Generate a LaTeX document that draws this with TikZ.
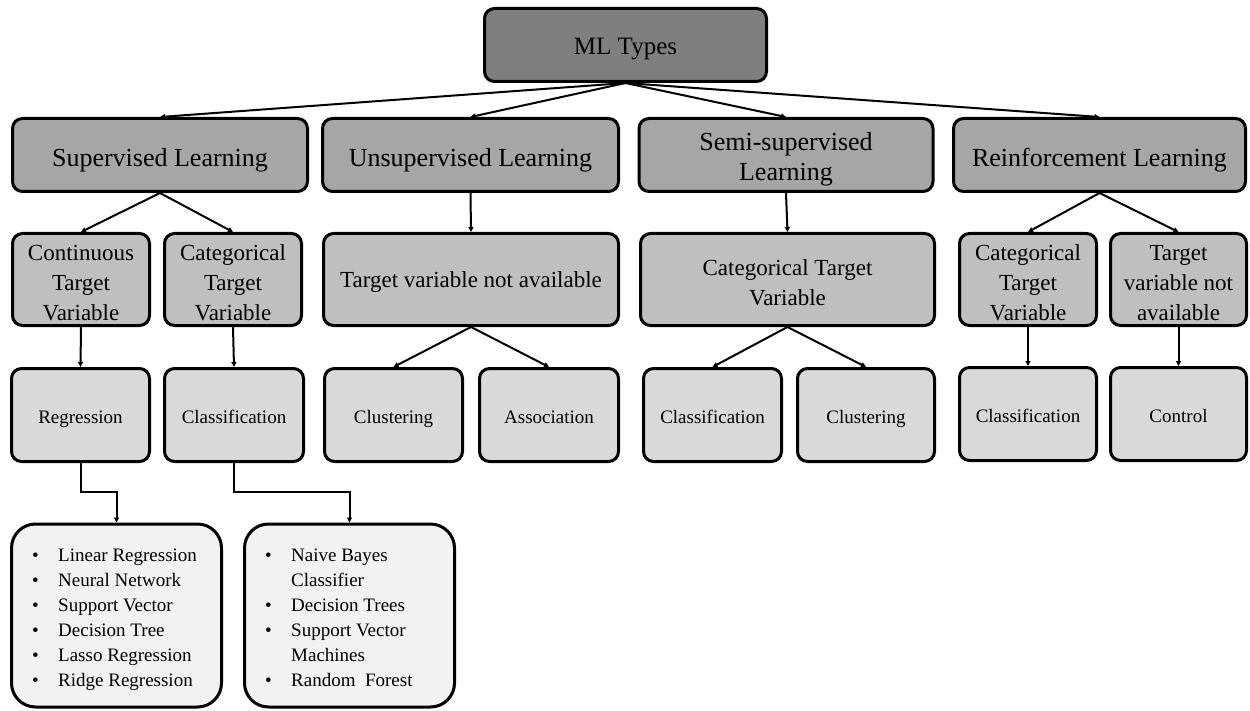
\documentclass[tikz,border=0pt]{standalone}
\usepackage{fontspec}
\setmainfont{Liberation Serif}
\usetikzlibrary{arrows.meta}
\definecolor{fillroot}{HTML}{7F7F7F}
\definecolor{fillone}{HTML}{A6A6A6}
\definecolor{filltwo}{HTML}{BFBFBF}
\definecolor{fillthree}{HTML}{D9D9D9}
\definecolor{filllist}{HTML}{F2F2F2}
\begin{document}
\begin{tikzpicture}[x=1pt,y=-1pt,
  box/.style={draw=black, line width=3pt, rounded corners=10pt, align=center, inner sep=2pt},
  oneline/.style={text height=#1, text depth=0pt},
  rootbox/.style={box, fill=fillroot, oneline=20pt, font=\fontsize{25}{30}\selectfont},
  onebox/.style={box, fill=fillone, minimum height=73, font=\fontsize{26}{30}\selectfont},
  twobox/.style={box, fill=filltwo, minimum height=92, font=\fontsize{23}{30}\selectfont},
  threebox/.style={box, fill=fillthree, minimum height=93, oneline=16pt, font=\fontsize{19}{24}\selectfont},
  listbox/.style={box, fill=filllist, rounded corners=24pt, minimum height=183, minimum width=210},
  listtext/.style={anchor=north west, inner sep=0pt, align=left, font=\fontsize{19}{25}\selectfont},
  arr/.style={-{Triangle[length=5pt,width=5pt]}, line width=2pt}]
\useasboundingbox (0,0) rectangle (1250,711);
\fill[white] (0,0) rectangle (1250,711);

\newcommand{\bitem}[1]{\makebox[26pt][l]{\textbullet}#1}
\newcommand{\bcont}[1]{\hspace*{26pt}#1}

% root
\node[rootbox, minimum width=282, minimum height=73] (ml) at (625.5,45) {ML Types};

% learning types
\node[onebox, oneline=24pt, minimum width=295] (sup)  at (160,155)    {Supervised Learning};
\node[onebox, oneline=24pt, minimum width=296] (uns)  at (470.5,155)  {Unsupervised Learning};
\node[onebox, minimum width=294] (semi) at (786,155)    {\rule{0pt}{27pt}Semi-supervised\\Learning};
\node[onebox, oneline=24pt, minimum width=292] (rein) at (1099.5,155) {Reinforcement Learning};

% target variable kinds
\node[twobox, minimum width=137] (cont)    at (81,279.5)     {\rule{0pt}{23pt}Continuous\\Target\\Variable};
\node[twobox, minimum width=137] (cat)     at (233,279.5)    {\rule{0pt}{23pt}Categorical\\Target\\Variable};
\node[twobox, oneline=17pt, minimum width=295] (tvna) at (471,279.5) {Target variable not available};
\node[twobox, minimum width=294] (semicat) at (787.5,279.5)  {\rule{0pt}{23pt}Categorical Target\\Variable};
\node[twobox, minimum width=137] (rcat)    at (1028,279.5)   {\rule{0pt}{23pt}Categorical\\Target\\Variable};
\node[twobox, minimum width=136] (rtv)     at (1178.5,279.5) {\rule{0pt}{23pt}Target\\variable not\\available};

% tasks
\node[threebox, minimum width=138] (reg)  at (80.5,415)   {Regression};
\node[threebox, minimum width=139] (cls)  at (234,415)    {Classification};
\node[threebox, minimum width=138] (clu)  at (393.5,415)  {Clustering};
\node[threebox, minimum width=139] (asc)  at (549,415)    {Association};
\node[threebox, minimum width=138] (scls) at (712.5,415)  {Classification};
\node[threebox, minimum width=137] (sclu) at (866,415)    {Clustering};
\node[threebox, minimum width=137] (rcls) at (1028,414)   {Classification};
\node[threebox, minimum width=136] (ctrl) at (1178.5,414) {Control};

% algorithm lists
\node[listbox] (list1) at (116.5,615.5) {};
\node[listbox] (list2) at (349.5,615.5) {};
\node[listtext] (list1txt) at ([shift={(22,26)}]list1.north west) {%
  \bitem{Linear Regression}\\
  \bitem{Neural Network}\\
  \bitem{Support Vector}\\
  \bitem{Decision Tree}\\
  \bitem{Lasso Regression}\\
  \bitem{Ridge Regression}};
\node[listtext] (list2txt) at ([shift={(22,26)}]list2.north west) {%
  \bitem{Naive Bayes}\\
  \bcont{Classifier}\\
  \bitem{Decision Trees}\\
  \bitem{Support Vector}\\
  \bcont{Machines}\\
  \bitem{Random\ \ Forest}};

% connectors
\foreach \t in {sup,uns,semi,rein} \draw[arr] (ml.south) -- (\t.north);
\draw[arr] (sup.south) -- (cont.north);
\draw[arr] (sup.south) -- (cat.north);
\draw[arr] (uns.south) -- (tvna.north);
\draw[arr] (semi.south) -- (semicat.north);
\draw[arr] (rein.south) -- (rcat.north);
\draw[arr] (rein.south) -- (rtv.north);
\draw[arr] (cont.south) -- (reg.north);
\draw[arr] (cat.south) -- (cls.north);
\draw[arr] (tvna.south) -- (clu.north);
\draw[arr] (tvna.south) -- (asc.north);
\draw[arr] (semicat.south) -- (scls.north);
\draw[arr] (semicat.south) -- (sclu.north);
\draw[arr] (rcat.south) -- (rcls.north);
\draw[arr] (rtv.south) -- (ctrl.north);
\draw[arr] (reg.south) -- ++(0,29) -| (list1.north);
\draw[arr] (cls.south) -- ++(0,29) -| (list2.north);
\end{tikzpicture}
\end{document}
